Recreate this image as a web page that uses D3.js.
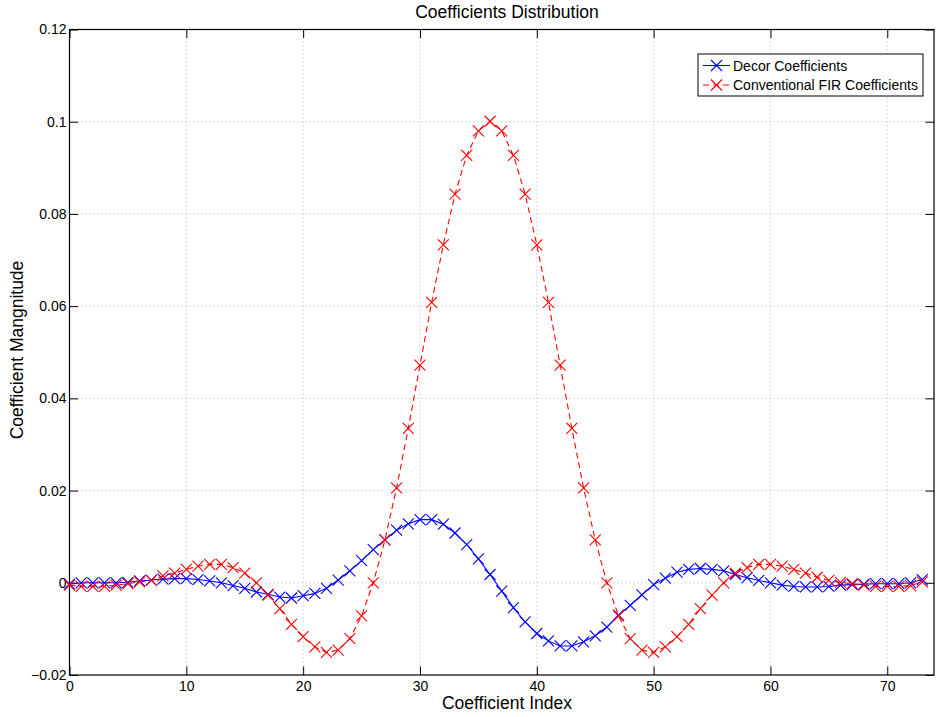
<!DOCTYPE html>
<html>
<head>
<meta charset="utf-8">
<script src="https://cdn.jsdelivr.net/npm/d3@7"></script>
<style>
  html, body { margin: 0; padding: 0; background: #fff; }
  svg { display: block; font-family: "Liberation Sans", Arial, Helvetica, sans-serif; }
</style>
</head>
<body>
<svg id="chart" width="936" height="717"></svg>
<script>
// ---- Data ----
const xTicks = [0, 10, 20, 30, 40, 50, 60, 70];
const yTicks = [-0.02, 0, 0.02, 0.04, 0.06, 0.08, 0.1, 0.12];
const yTickLabels = ["\u22120.02", "0", "0.02", "0.04", "0.06", "0.08", "0.1", "0.12"];
const seriesNames = ["Decor Coefficients", "Conventional FIR Coefficients"];

const decor = [
  -0.0003, 0.0000, 0.0000, 0.0000, 0.0000, 0.0001, 0.0004, 0.0006, 0.0008, 0.0009,
  0.0009, 0.0007, 0.0004, 0.0000, -0.0006, -0.0012, -0.0020, -0.0025, -0.0031, -0.0033,
  -0.0028, -0.0023, -0.0012, 0.0006, 0.0026, 0.0048, 0.0072, 0.0093, 0.0114, 0.0128,
  0.0137, 0.0137, 0.0127, 0.0108, 0.0083, 0.0052, 0.0018, -0.0018, -0.0054, -0.0085,
  -0.0110, -0.0126, -0.0137, -0.0137, -0.0128, -0.0115, -0.0096, -0.0070, -0.0049, -0.0026,
  -0.0004, 0.0010, 0.0023, 0.0029, 0.0031, 0.0029, 0.0026, 0.0018, 0.0011, 0.0005,
  0.0000, -0.0005, -0.0008, -0.0009, -0.0009, -0.0008, -0.0005, -0.0004, -0.0003, -0.0002,
  -0.0002, -0.0002, 0.0000, 0.0007
];

const fir = [
  -0.0005, -0.0008, -0.0008, -0.0008, -0.0005, -0.0002, 0.0002, 0.0005, 0.0015, 0.0021,
  0.0029, 0.0036, 0.0040, 0.0040, 0.0033, 0.0021, 0.0000, -0.0027, -0.0056, -0.0090,
  -0.0117, -0.0139, -0.0151, -0.0146, -0.0121, -0.0072, 0.0000, 0.0093, 0.0206, 0.0335,
  0.0472, 0.0608, 0.0733, 0.0843, 0.0927, 0.0980, 0.1001, 0.0980, 0.0927, 0.0843,
  0.0733, 0.0608, 0.0472, 0.0335, 0.0206, 0.0093, 0.0000, -0.0072, -0.0121, -0.0146,
  -0.0151, -0.0139, -0.0117, -0.0090, -0.0056, -0.0027, 0.0000, 0.0021, 0.0033, 0.0040,
  0.0040, 0.0036, 0.0029, 0.0021, 0.0012, 0.0005, 0.0001, -0.0002, -0.0005, -0.0008,
  -0.0008, -0.0008, -0.0006, 0.0002
];

// ---- Layout ----
const L = 69.5, R = 934, T = 29.5, B = 675;
const svg = d3.select("#chart");

const x = d3.scaleLinear().domain([0, 74]).range([L, R]);
const y = d3.scaleLinear().domain([-0.02, 0.12]).range([B, T]);

// grid
const grid = svg.append("g").attr("stroke", "#b4b4b4").attr("stroke-width", 1)
  .attr("stroke-dasharray", "1,3").attr("fill", "none");
xTicks.filter(d => d > 0).forEach(d => {
  grid.append("line").attr("x1", x(d)).attr("x2", x(d)).attr("y1", T).attr("y2", B);
});
yTicks.filter(d => d > -0.02 && d < 0.12).forEach(d => {
  grid.append("line").attr("x1", L).attr("x2", R).attr("y1", y(d)).attr("y2", y(d));
});

// axes (MATLAB style: inward ticks on all sides)
const tickLen = 8.5;
const axB = svg.append("g").attr("transform", `translate(0,${B})`)
  .call(d3.axisBottom(x).tickValues(xTicks).tickSize(-tickLen).tickPadding(6).tickFormat(d3.format("d")));
const axT = svg.append("g").attr("transform", `translate(0,${T})`)
  .call(d3.axisTop(x).tickValues(xTicks).tickSize(-tickLen).tickFormat(""));
const axL = svg.append("g").attr("transform", `translate(${L},0)`)
  .call(d3.axisLeft(y).tickValues(yTicks).tickSize(-tickLen).tickPadding(3)
    .tickFormat((d, i) => yTickLabels[i]));
const axR = svg.append("g").attr("transform", `translate(${R},0)`)
  .call(d3.axisRight(y).tickValues(yTicks).tickSize(-tickLen).tickFormat(""));

[axB, axT, axL, axR].forEach(a => {
  a.select(".domain").remove();
  a.selectAll(".tick line").attr("stroke", "#000").attr("stroke-width", 1);
  a.selectAll("text").attr("fill", "#000").attr("font-size", 14)
    .attr("font-family", "'Liberation Sans', Arial, sans-serif");
});
axB.selectAll("text").attr("dy", "0.71em");

// box
svg.append("rect").attr("x", L).attr("y", T).attr("width", R - L).attr("height", B - T)
  .attr("fill", "none").attr("stroke", "#000").attr("stroke-width", 1.2);

// series
const line = d3.line().x((d, i) => x(i)).y(d => y(d));

function drawX(g, cx, cy, color) {
  const s = 5.5;
  g.append("path")
    .attr("d", `M${cx - s},${cy - s}L${cx + s},${cy + s}M${cx - s},${cy + s}L${cx + s},${cy - s}`)
    .attr("stroke", color).attr("stroke-width", 1.1).attr("fill", "none");
}

const series = [
  { data: decor, color: "#0000ff", dash: null },
  { data: fir, color: "#ff0000", dash: "6,4" }
];

series.forEach(s => {
  const g = svg.append("g");
  g.append("path").datum(s.data).attr("d", line)
    .attr("fill", "none").attr("stroke", s.color).attr("stroke-width", 1.1)
    .attr("stroke-dasharray", s.dash);
  s.data.forEach((v, i) => drawX(g, x(i), y(v), s.color));
});

// title & labels
svg.append("text").attr("x", 507).attr("y", 17.5).attr("text-anchor", "middle")
  .attr("font-size", 17.5).attr("fill", "#000").text("Coefficients Distribution");
svg.append("text").attr("x", 507).attr("y", 708.5).attr("text-anchor", "middle")
  .attr("font-size", 17.5).attr("fill", "#000").text("Coefficient Index");
svg.append("text").attr("transform", "translate(22.5,350) rotate(-90)").attr("text-anchor", "middle")
  .attr("font-size", 17.5).attr("fill", "#000").text("Coefficient Mangnitude");

// legend
const lg = svg.append("g");
lg.append("rect").attr("x", 698).attr("y", 54).attr("width", 225).attr("height", 42)
  .attr("fill", "#fff").attr("stroke", "#000").attr("stroke-width", 1);
const legY = [65.5, 85];
series.forEach((s, k) => {
  lg.append("line").attr("x1", 703).attr("x2", 730).attr("y1", legY[k]).attr("y2", legY[k])
    .attr("stroke", s.color).attr("stroke-width", 1.1).attr("stroke-dasharray", s.dash);
  drawX(lg, 716.5, legY[k], s.color);
  lg.append("text").attr("x", 733).attr("y", legY[k]).attr("dy", "0.36em")
    .attr("font-size", 14).attr("fill", "#000").text(seriesNames[k]);
});
</script>
</body>
</html>
